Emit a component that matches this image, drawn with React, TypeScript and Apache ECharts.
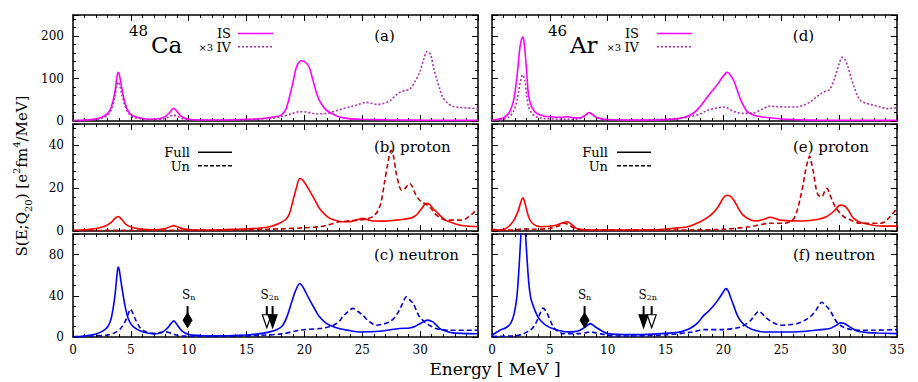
import React, { useEffect, useRef } from "react";
import * as echarts from "echarts";

// ---------- data (energy in MeV, strength values) ----------
const energyTicks = [0, 5, 10, 15, 20, 25, 30, 35];

const caIS = [[0,1],[1,2],[2,5],[2.5,9],[3,18],[3.3,32],[3.6,65],[3.8,105],[3.9,115],[4.0,110],[4.2,80],[4.5,42],[4.8,22],[5.2,12],[6,6],[7,4],[7.8,8],[8.3,18],[8.7,30],[9.0,22],[9.4,10],[10,4],[11,2.5],[13,2.5],[15,4],[16,5],[17,8],[17.5,10],[18,14],[18.4,28],[18.7,56],[19,90],[19.3,126],[19.6,141],[19.8,142],[20.1,138],[20.4,128],[20.7,100],[21,70],[21.3,48],[21.8,28],[22.2,20],[22.8,12],[23.3,8],[24,5],[25,4],[27,3],[30,2],[35,1.5]];
const caIV = [[0,0.5],[1,1.5],[2,4],[2.5,7],[3,14],[3.3,26],[3.6,55],[3.8,85],[3.9,92],[4.0,88],[4.2,65],[4.5,35],[4.8,18],[5.2,9],[6,5],[7,3],[7.8,5],[8.3,10],[8.7,14],[9.0,11],[9.5,5],[10,3],[12,2],[15,3],[17,6],[18,10],[19,18],[19.6,22],[20.2,21],[21,17],[22,18],[22.4,21],[23.2,28],[23.9,33],[24.6,38],[25.3,44],[25.8,42],[26.3,39],[26.9,42],[27.4,48],[27.8,58],[28.2,67],[28.7,72],[29.1,75],[29.6,95],[30,118],[30.3,145],[30.6,164],[30.9,157],[31.2,120],[31.4,102],[31.7,75],[31.95,56],[32.4,42],[32.8,35],[33.4,32],[34,31],[35,29]];
const caProtonFull = [[0,0.3],[1,0.6],[2,1.2],[2.8,2.3],[3.3,4],[3.6,5.8],[3.9,6.8],[4.2,5.5],[4.6,3],[5.2,1.5],[6,0.8],[7,0.6],[8,1.2],[8.4,2],[8.7,2.5],[9.0,2],[9.5,1],[10.5,0.5],[12,0.5],[14,0.8],[16,1.3],[17,2],[17.8,3.5],[18.4,5.5],[18.7,8],[19,14],[19.3,20],[19.6,24.5],[19.9,23.5],[20.5,18.3],[21,13.5],[21.3,10.5],[21.8,7.5],[22.2,5.9],[22.8,4.8],[23.3,4.3],[24,4.4],[24.5,5.2],[25.05,5.9],[25.5,5.2],[25.9,4.65],[26.8,4.6],[27.9,5.1],[28.6,5.5],[29.1,5.9],[29.5,6.8],[29.8,8.2],[30.2,11],[30.5,12.9],[30.8,12.6],[31.1,10.5],[31.4,9],[31.8,6.8],[32.2,5.1],[33,3.4],[33.4,2.8],[34,2.3],[35,2]];
const caProtonUn = [[0,0.2],[5,0.3],[10,0.3],[15,0.6],[18,1],[20,1.5],[21.3,2],[22,2.8],[23,4.3],[24,4.8],[24.8,5.1],[25.5,5.8],[25.9,6.7],[26.3,9],[26.6,12.9],[26.9,22],[27.2,31.5],[27.5,37.7],[27.7,35],[27.9,28],[28.2,21],[28.4,19],[28.6,19.3],[28.8,20.6],[29.1,22.2],[29.3,21],[29.5,18.3],[29.8,15.5],[30.1,13.6],[30.5,12.5],[30.8,11.3],[31.1,9.5],[31.4,7.4],[31.8,6],[32.2,5.1],[33.4,5.1],[33.9,5.6],[34.2,6.7],[34.6,8.5],[35,10.5]];
const caNeutronFull = [[0,0.3],[1,1],[2,3],[2.6,6],[3,10],[3.3,18],[3.6,38],[3.8,60],[3.9,68],[4.0,65],[4.2,50],[4.5,30],[4.8,17],[5.2,10],[6,5],[7,3],[7.6,4],[8.1,8],[8.4,12],[8.7,15.7],[9.0,12],[9.4,6],[10,2.5],[11,1.5],[13,1.2],[15,2],[16,3],[17,5],[17.6,7],[18.1,11],[18.5,20],[18.9,34],[19.2,44],[19.6,52],[19.9,48],[20.45,36],[21,25],[21.3,19.6],[21.8,14],[22.2,11.5],[23,8.2],[24,6],[24.8,4.9],[26.5,5.6],[28.2,8.2],[29.1,8.8],[29.6,10.5],[29.9,12.4],[30.3,14.8],[30.65,16.4],[31.1,14.7],[31.4,11.5],[31.7,8.2],[32.2,5.8],[32.8,4],[33.5,3.5],[35,3.2]];
const caNeutronUn = [[0,0.2],[1,0.5],[2,1],[3,2],[3.6,4],[4.1,8],[4.5,15],[4.8,23],[4.95,27],[5.1,25],[5.4,17],[5.8,9],[6.3,5],[7,3.5],[7.6,4.5],[8,5],[8.4,4],[8.9,2],[9.5,1],[11,0.6],[14,0.8],[16,1.5],[18,3],[19.6,6.6],[21.3,8.2],[22,9.5],[22.5,11.4],[23,15],[23.3,19.6],[23.8,25],[24.2,27.8],[24.6,25],[25.05,21],[25.6,15],[26.2,11.4],[26.8,12.5],[27.35,14.7],[27.8,19],[28.2,26],[28.5,33],[28.8,39],[29.1,36],[29.4,32.7],[29.7,25],[29.95,19.6],[30.4,14.5],[30.8,11.4],[31.3,8.5],[31.7,7.2],[32.5,6.6],[35,6.6]];

const arIS = [[0,2],[0.5,4],[1,8],[1.5,20],[1.87,49],[2.0,70],[2.2,115],[2.4,170],[2.55,193],[2.65,198],[2.75,190],[2.9,150],[3.05,95],[3.16,60],[3.4,35],[3.7,22],[4,16],[4.5,12],[5,10],[5.5,9],[6,9],[6.5,10],[7,8],[7.5,7],[8,12],[8.3,19],[8.45,20],[8.7,15],[9,9],[9.5,5],[10,3.5],[12,2],[14,2.5],[16,5],[17.1,13.5],[17.8,28],[18.6,56],[19,70],[19.5,87],[19.9,103],[20.2,113],[20.35,115],[20.6,108],[20.9,95],[21.2,72],[21.5,49],[21.8,33],[22.05,22],[22.6,14],[23.2,10],[24.6,6],[26,3.5],[28,2],[35,1.5]];
const arIV = [[0,1],[0.5,2],[1,4],[1.5,10],[1.9,25],[2.16,49],[2.4,85],[2.65,109],[2.85,95],[3.0,60],[3.16,33],[3.4,20],[3.8,10],[4.5,6],[5.5,4.5],[6.5,4],[7.5,5],[8,10],[8.3,17],[8.5,18],[8.8,12],[9.3,6],[10,3],[12,2],[14,3],[16,6],[17.1,10],[18,17],[18.6,25],[19.5,31],[20,33],[20.3,31],[20.7,25],[21.2,20],[21.7,18],[22.6,19],[23.3,27],[24,35],[24.5,34],[25.5,33],[26.3,33],[26.9,37],[27.5,45],[28,56],[28.4,64],[28.8,70],[29.2,75],[29.6,100],[30,135],[30.25,150],[30.45,148],[30.7,133],[31,105],[31.3,80],[31.55,62],[31.8,49],[32.3,42],[33,37],[33.6,33],[34.1,29],[34.5,30],[35,31]];
const arProtonFull = [[0,0.8],[0.7,0.5],[1.3,1.5],[1.9,5.1],[2.3,10],[2.55,14.5],[2.68,15.5],[2.85,13],[3.16,6.7],[3.5,3.5],[4.2,2],[5,2.2],[5.6,2.8],[6.1,3.8],[6.5,4.3],[6.9,3],[7.3,1.2],[8,0.6],[10,0.5],[14,0.6],[15.5,1.2],[16.9,2],[18,4.3],[18.9,7.4],[19.5,11],[20,15.5],[20.3,16.7],[20.6,16.2],[20.9,14.4],[21.3,10.5],[21.7,7.4],[22.3,5.3],[22.9,4.65],[23.5,5.5],[24.05,6.4],[24.5,5.8],[24.9,5.1],[26.6,4.65],[28.1,5.4],[28.9,6.7],[29.5,9],[30.1,12.1],[30.4,11.8],[30.7,10.5],[31.25,5.9],[32.1,3.6],[33.8,2.3],[35,2.3]];
const arProtonUn = [[0,0.3],[2,0.5],[2.7,1],[3.5,0.8],[5,1.2],[5.8,2.5],[6.2,3.6],[6.6,3],[7.2,1],[8,0.5],[12,0.4],[17.1,0.5],[20,0.8],[22.3,2],[24.05,3.6],[25.2,3.6],[25.8,4.5],[26.1,5.9],[26.4,10],[26.6,14.4],[26.9,22],[27.1,28.4],[27.3,33],[27.45,35],[27.6,32],[27.8,26.8],[28.0,20],[28.2,16.7],[28.5,16],[28.75,18.5],[28.95,19.9],[29.2,17],[29.4,14.4],[29.7,11],[30.1,8.2],[30.5,6.3],[31,5.1],[31.8,3.6],[33.6,3.6],[34,4.5],[34.4,6.7],[34.85,9.5],[35,10]];
const arNeutronFull = [[0,1.7],[0.7,6.6],[1.2,9],[1.6,13],[1.9,22],[2.15,39],[2.35,70],[2.5,100],[2.65,122],[2.8,115],[2.95,90],[3.16,55],[3.35,38],[3.6,29],[3.9,21],[4.2,16],[4.7,11],[5.3,8],[6.5,5],[7.1,5.2],[7.6,6.6],[8.1,10],[8.5,13],[8.9,10],[9.4,6.6],[10,3.3],[12,2.3],[14,2.8],[15.5,4],[16.3,5],[17.1,8.2],[17.8,14],[18.3,21],[18.8,26],[19.2,31],[19.6,37],[20,44],[20.2,47],[20.4,45],[20.6,39],[20.9,30],[21.2,21],[21.6,14],[22.05,9.8],[22.7,6.5],[23.5,4.9],[25.8,4.9],[27.5,6],[28.4,7.2],[29.2,8.2],[29.7,11],[30.1,13.7],[30.4,13.3],[30.7,11.4],[31.1,8.5],[31.55,5.9],[32.3,4.5],[33.3,3.9],[35,3.3]];
const arNeutronUn = [[0,0.5],[1,0.8],[1.9,1],[2.7,3],[3.3,6.6],[3.6,10],[3.9,16],[4.2,24],[4.4,28],[4.6,26],[4.9,19.6],[5.3,9.8],[5.7,5.5],[6.2,3.3],[7.6,3.3],[8.1,4.2],[8.5,5],[8.9,4.2],[9.4,3],[10.5,1],[12,1],[15,2],[17.4,5],[18.3,7.2],[20,7.2],[21,8.5],[21.5,9.8],[22,13],[22.35,16],[22.7,21],[23.05,25],[23.4,22],[23.75,18],[24.3,14],[24.9,11.4],[25.6,11.8],[26.35,13],[27,16],[27.5,19.6],[28,26],[28.5,33.7],[28.8,31],[29.2,26],[29.6,18],[29.9,13],[30.4,9.5],[31,7.2],[32,6.6],[33,6.6],[35,7.2]];

// separation energies: [energy, head kind (0 diamond, 1 filled triangle, 2 hollow triangle)]
const caThresholds = [[9.9, 0], [16.75, 2], [17.25, 1]];
const arThresholds = [[8.0, 0], [13.1, 1], [13.8, 2]];
const caThresholdLabels = [[10.0, "n"], [17.0, "2n"]];
const arThresholdLabels = [[8.0, "n"], [13.45, "2n"]];

const yRows = [
  { max: 250, interval: 100, minor: 5 },
  { max: 50, interval: 20, minor: 5 },
  { max: 100, interval: 40, minor: 4 },
];

const FONT = "DejaVu Serif";
const C_IS = "#ff00ff";
const C_IV = "#b22cb2";
const C_PF = "#ff0000";
const C_PU = "#c00000";
const C_NF = "#0000ff";
const C_NU = "#0000c8";

export default function App() {
  const ref = useRef<HTMLDivElement>(null);

  useEffect(() => {
    if (!ref.current) return;
    const chart = echarts.init(ref.current, undefined, { renderer: "svg" });

    const colLeft = [73, 492];
    const colWidth = 405;
    const rowTop = [15, 124, 234];
    const rowH = [106, 107, 103];

    const grids: any[] = [];
    const xAxes: any[] = [];
    const yAxes: any[] = [];
    const tickLine = { color: "#000", width: 1 };

    for (let col = 0; col < 2; col++) {
      for (let row = 0; row < 3; row++) {
        const g = col * 3 + row;
        grids.push({ left: colLeft[col], top: rowTop[row], width: colWidth, height: rowH[row], containLabel: false });
        for (const pos of ["bottom", "top"]) {
          xAxes.push({
            type: "value", gridIndex: g, position: pos, min: 0, max: 35, interval: 5,
            axisLine: { onZero: false, lineStyle: { color: "#000", width: 1.5 } },
            axisTick: { inside: true, length: 6, lineStyle: tickLine },
            minorTick: { show: true, splitNumber: 5, length: 3, lineStyle: tickLine },
            splitLine: { show: false }, minorSplitLine: { show: false },
            axisLabel: {
              show: pos === "bottom" && row === 2,
              color: "#000", fontFamily: FONT, fontSize: 12, margin: 7,
              showMaxLabel: col === 1, showMinLabel: true,
            },
          });
        }
        const yr = yRows[row];
        for (const pos of ["left", "right"]) {
          yAxes.push({
            type: "value", gridIndex: g, position: pos, min: 0, max: yr.max, interval: yr.interval,
            axisLine: { onZero: false, show: true, lineStyle: { color: "#000", width: 1.5 } },
            axisTick: { show: true, inside: true, length: 6, lineStyle: tickLine },
            minorTick: { show: true, splitNumber: yr.minor, length: 3, lineStyle: tickLine },
            splitLine: { show: false }, minorSplitLine: { show: false },
            axisLabel: {
              show: pos === "left" && col === 0,
              color: "#000", fontFamily: FONT, fontSize: 12, margin: 9,
              showMaxLabel: false,
            },
          });
        }
      }
    }

    const line = (g: number, data: number[][], color: string, type: any) => ({
      type: "line", xAxisIndex: 2 * g, yAxisIndex: 2 * g, data,
      showSymbol: false, symbol: "none", smooth: 0.3, clip: true,
      lineStyle: { color, width: 1.6, type },
      z: 3,
    });

    const arrowSeries = (g: number, data: number[][]) => ({
      type: "custom", xAxisIndex: 2 * g, yAxisIndex: 2 * g, data, z: 10,
      renderItem: (params: any, api: any) => {
        const E = api.value(0);
        const kind = api.value(1);
        const top = api.coord([E, 30]);
        const tip = api.coord([E, 9]);
        const x = top[0];
        const headH = kind === 0 ? 15 : 13;
        const base = tip[1] - headH;
        const children: any[] = [
          { type: "line", shape: { x1: x, y1: top[1], x2: x, y2: base + 1 }, style: { stroke: "#000", lineWidth: 2 } },
        ];
        if (kind === 0) {
          children.push({ type: "polygon", shape: { points: [[x, base], [x + 4.5, base + headH / 2], [x, tip[1]], [x - 4.5, base + headH / 2]] }, style: { fill: "#000", stroke: "#000", lineWidth: 1 } });
        } else {
          children.push({ type: "polygon", shape: { points: [[x - 4.5, base], [x + 4.5, base], [x, tip[1]]] }, style: { fill: kind === 1 ? "#000" : "#fff", stroke: "#000", lineWidth: 1.2 } });
        }
        return { type: "group", children };
      },
    });

    const labelSeries = (g: number, data: any[][]) => ({
      type: "custom", xAxisIndex: 2 * g, yAxisIndex: 2 * g, z: 10,
      data: data.map((d) => [d[0], 41]),
      renderItem: (params: any, api: any) => {
        const p = api.coord([api.value(0), api.value(1)]);
        const sub = data[params.dataIndex][1];
        return {
          type: "text",
          x: p[0], y: p[1],
          style: {
            text: "{m|S}{s|" + sub + "}",
            align: "center", verticalAlign: "middle",
            rich: {
              m: { fontFamily: FONT, fontSize: 12, fill: "#000", lineHeight: 14, verticalAlign: "middle" },
              s: { fontFamily: FONT, fontSize: 8, fill: "#000", lineHeight: 8, verticalAlign: "bottom" },
            },
          },
        };
      },
    });

    const series = [
      line(0, caIS, C_IS, "solid"),
      line(0, caIV, C_IV, [2, 2]),
      line(1, caProtonFull, C_PF, "solid"),
      line(1, caProtonUn, C_PU, [5, 3]),
      line(2, caNeutronFull, C_NF, "solid"),
      line(2, caNeutronUn, C_NU, [5, 3]),
      line(3, arIS, C_IS, "solid"),
      line(3, arIV, C_IV, [2, 2]),
      line(4, arProtonFull, C_PF, "solid"),
      line(4, arProtonUn, C_PU, [5, 3]),
      line(5, arNeutronFull, C_NF, "solid"),
      line(5, arNeutronUn, C_NU, [5, 3]),
      arrowSeries(2, caThresholds),
      arrowSeries(5, arThresholds),
      labelSeries(2, caThresholdLabels),
      labelSeries(5, arThresholdLabels),
    ];

    const txt = (x: number, y: number, text: string, size: number, align = "left", extra: any = {}) => ({
      type: "text", x, y, z: 20,
      style: { text, fontFamily: FONT, fontSize: size, fill: "#000", align, verticalAlign: "middle", ...extra },
    });
    const seg = (x1: number, x2: number, y: number, color: string, dash: any) => ({
      type: "line", z: 20, shape: { x1, y1: y, x2, y2: y },
      style: { stroke: color, lineWidth: 1.6, lineDash: dash },
    });

    const graphic: any[] = [];
    const nuclei = [
      { dx: 0, mass: "48", el: "Ca", a: "(a)", b: "(b) proton", c: "(c) neutron" },
      { dx: 419, mass: "46", el: "Ar", a: "(d)", b: "(e) proton", c: "(f) neutron" },
    ];
    nuclei.forEach((n, i) => {
      const d = n.dx;
      graphic.push(txt(129 + d, 31, n.mass, 15));
      graphic.push(txt(151 + d, 45, n.el, 23));
      graphic.push(txt(231 + d - (i ? 11 : 0), 33.5, "IS", 13, "right"));
      graphic.push({
        type: "text", x: 231 + d - (i ? 11 : 0), y: 47, z: 20,
        style: {
          text: "{s|×3} {m|IV}", align: "right", verticalAlign: "middle",
          rich: { s: { fontFamily: FONT, fontSize: 10, fill: "#000" }, m: { fontFamily: FONT, fontSize: 13, fill: "#000" } },
        },
      });
      graphic.push(seg(238 + d, 273 + d, 33.5, C_IS, null));
      graphic.push(seg(238 + d, 273 + d, 46.7, C_IV, [2, 2]));
      graphic.push(txt(384.5 + d, 36, n.a, 15, "center"));
      graphic.push(txt(190 + d - (i ? 1 : 0), 152, "Full", 13, "right"));
      graphic.push(txt(190 + d - (i ? 1 : 0), 166, "Un", 13, "right"));
      graphic.push(seg(198 + d, 232 + d, 152.3, "#000", null));
      graphic.push(seg(198 + d, 232 + d, 165.7, "#000", [4, 2]));
      graphic.push(txt(374 + d, 147, n.b, 15));
      graphic.push(txt(374 + d, 255, n.c, 15));
    });

    graphic.push({
      type: "text", x: 22, y: 176, rotation: Math.PI / 2, z: 20,
      style: {
        text: "{m|S(E;Q}{b|20}{m|) [e}{t|2}{m|fm}{t|4}{m|/MeV]}",
        align: "center", verticalAlign: "middle",
        rich: {
          m: { fontFamily: FONT, fontSize: 15, fill: "#000", lineHeight: 22, verticalAlign: "middle" },
          b: { fontFamily: FONT, fontSize: 10, fill: "#000", lineHeight: 11, verticalAlign: "bottom" },
          t: { fontFamily: FONT, fontSize: 10, fill: "#000", lineHeight: 11, verticalAlign: "top" },
        },
      },
    });
    graphic.push(txt(495, 369, "Energy [ MeV ]", 17, "center"));

    chart.setOption({
      animation: false,
      backgroundColor: "#fff",
      textStyle: { fontFamily: FONT },
      grid: grids,
      xAxis: xAxes,
      yAxis: yAxes,
      series,
      graphic,
    });

    return () => chart.dispose();
  }, []);

  return <div ref={ref} style={{ position: "absolute", left: 0, top: 0, width: 918, height: 382 }} />;
}
